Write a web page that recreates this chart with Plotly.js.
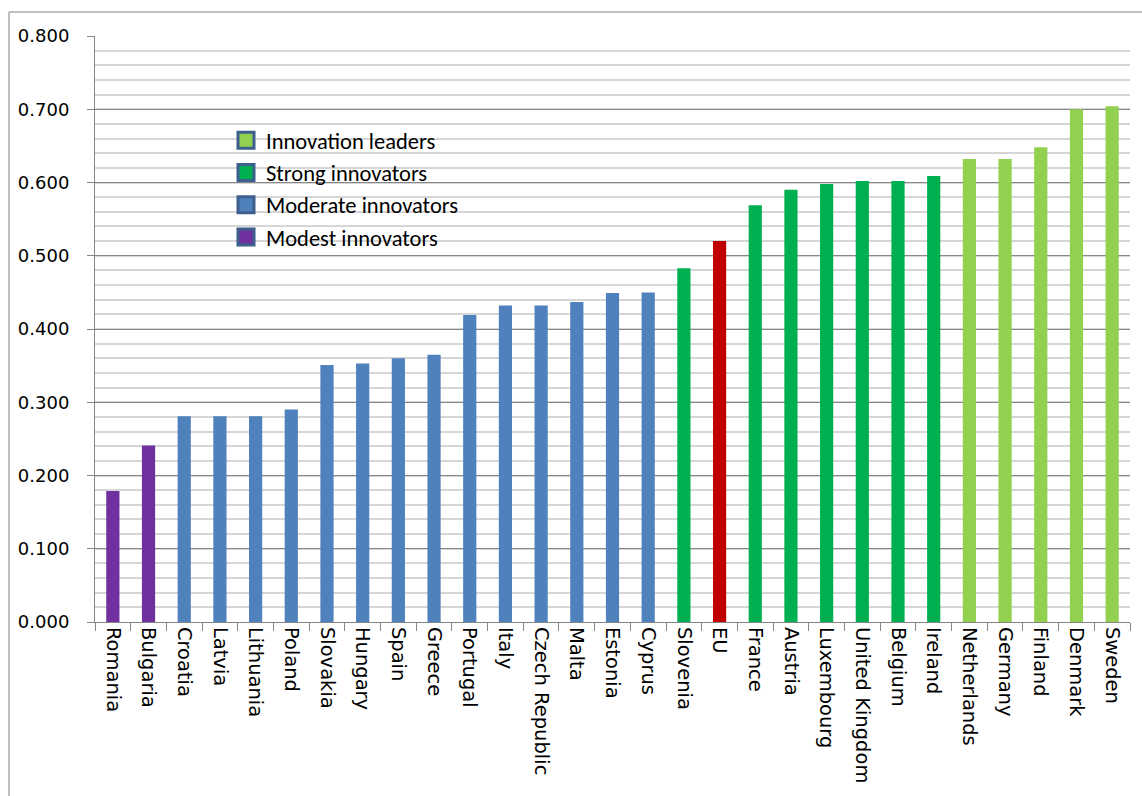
<!DOCTYPE html>
<html>
<head>
<meta charset="utf-8">
<script src="https://cdn.plot.ly/plotly-3.0.1.min.js"></script>
<style>html,body{margin:0;padding:0;background:#fff;}#chart{width:1142px;height:796px;}</style>
</head>
<body>
<div id="chart"></div>
<script>
// Data
const categories = ["Romania","Bulgaria","Croatia","Latvia","Lithuania","Poland","Slovakia","Hungary","Spain","Greece","Portugal","Italy","Czech Republic","Malta","Estonia","Cyprus","Slovenia","EU","France","Austria","Luxembourg","United Kingdom","Belgium","Ireland","Netherlands","Germany","Finland","Denmark","Sweden"];
const values = [0.179,0.241,0.281,0.281,0.281,0.290,0.351,0.353,0.360,0.365,0.419,0.432,0.432,0.437,0.449,0.450,0.483,0.520,0.569,0.590,0.598,0.602,0.602,0.609,0.632,0.632,0.648,0.700,0.704];
const groups = ["Modest","Modest","Moderate","Moderate","Moderate","Moderate","Moderate","Moderate","Moderate","Moderate","Moderate","Moderate","Moderate","Moderate","Moderate","Moderate","Strong","EU","Strong","Strong","Strong","Strong","Strong","Strong","Leader","Leader","Leader","Leader","Leader"];
const groupKeys = ["Leader","Strong","Moderate","Modest","EU"];
const groupNames = ["Innovation leaders","Strong innovators","Moderate innovators","Modest innovators","EU"];
const groupColors = ["#92d050","#00b050","#4f81bd","#7030a0","#c00000"];
const yTickVals = [0,0.1,0.2,0.3,0.4,0.5,0.6,0.7,0.8];
const yTickText = ["0.000","0.100","0.200","0.300","0.400","0.500","0.600","0.700","0.800"];

const traces = [];
groupKeys.forEach((g, gi) => {
  const xs = [], ys = [];
  categories.forEach((c, i) => { if (groups[i] === g) { xs.push(c); ys.push(values[i]); } });
  traces.push({
    type: 'bar', x: xs, y: ys, name: groupNames[gi],
    marker: {color: groupColors[gi], line: {width: 0}},
    width: 0.37, showlegend: false, hoverinfo: 'x+y'
  });
});
// legend entries (first four groups)
groupKeys.slice(0,4).forEach((g, gi) => {
  traces.push({
    type: 'scatter', mode: 'markers', x: [null], y: [null], name: groupNames[gi],
    marker: {symbol: 'square', size: 16, color: groupColors[gi], line: {color: '#3c5f8e', width: 3}},
    showlegend: true, hoverinfo: 'skip'
  });
});

const L = 95, R = 1130, T = 36, B = 622;
const W = R - L, H = B - T;
const px = v => (v - L) / W;
const py = v => (B - v) / H;

const layout = {
  width: 1142, height: 796,
  margin: {l: L, r: 1142 - R, t: T, b: 796 - B, pad: 0},
  paper_bgcolor: '#ffffff', plot_bgcolor: '#ffffff',
  barmode: 'overlay',
  font: {family: 'DejaVu Sans, Verdana, sans-serif', size: 18, color: '#000000'},
  xaxis: {
    type: 'category', categoryorder: 'array', categoryarray: categories,
    tickangle: 90, ticks: 'outside', tickson: 'boundaries', ticklen: 8, tickcolor: '#868686', tickwidth: 1,
    showline: true, linecolor: '#868686', linewidth: 1, showgrid: false,
    tickfont: {family: 'DejaVu Sans, Verdana, sans-serif', size: 19.5, color: '#000'},
    fixedrange: true
  },
  yaxis: {
    range: [0, 0.8], tickvals: yTickVals, ticktext: yTickText,
    ticks: 'outside', ticklen: 7, tickcolor: '#868686', tickwidth: 1,
    showline: true, linecolor: '#868686', linewidth: 1,
    showgrid: true, gridcolor: '#878787', gridwidth: 1,
    minor: {dtick: 0.02, showgrid: true, gridcolor: '#d6d6d6', gridwidth: 2, ticks: ''},
    zeroline: false, ticklabelstandoff: 14,
    tickfont: {family: 'DejaVu Sans, Verdana, sans-serif', size: 18, color: '#000'},
    fixedrange: true
  },
  legend: {
    x: px(226), y: py(119), xanchor: 'left', yanchor: 'top',
    bgcolor: 'rgba(0,0,0,0)', borderwidth: 0,
    font: {family: 'Carlito, Liberation Sans, Arial, sans-serif', size: 22.5, color: '#000'},
    tracegroupgap: 0, itemwidth: 30
  },
  shapes: [
    {type: 'line', xref: 'paper', yref: 'paper', x0: px(9), x1: px(1142), y0: py(12), y1: py(12), line: {color: '#bfbfbf', width: 2}},
    {type: 'line', xref: 'paper', yref: 'paper', x0: px(9), x1: px(9), y0: py(12), y1: py(796), line: {color: '#bfbfbf', width: 2}}
  ],
  showlegend: true
};

Plotly.newPlot('chart', traces, layout, {displayModeBar: false, staticPlot: true});
</script>
</body>
</html>
